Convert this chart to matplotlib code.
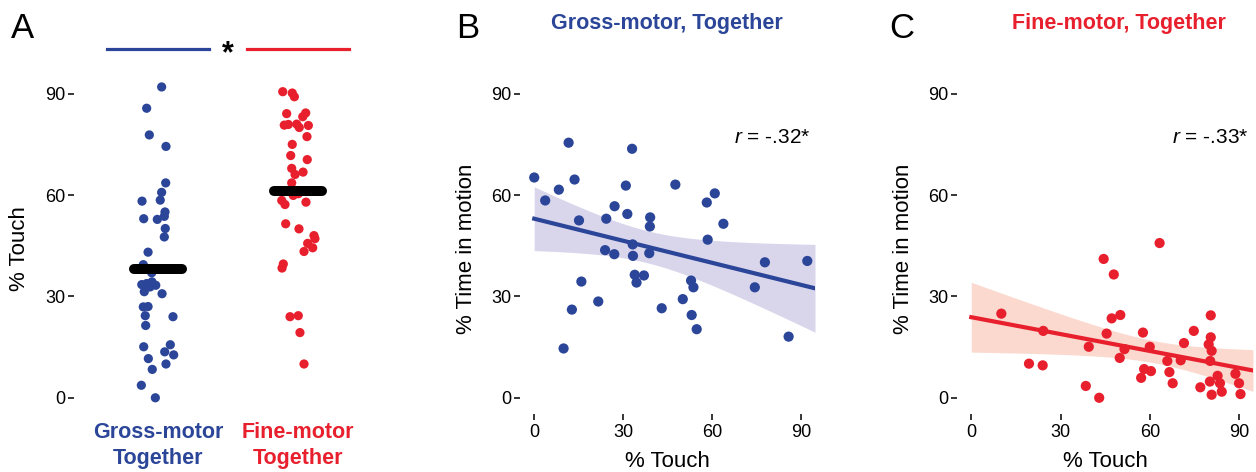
import matplotlib
matplotlib.use('Agg')
import matplotlib.pyplot as plt
import numpy as np

plt.rcParams['font.family'] = ['Liberation Sans', 'DejaVu Sans']
plt.rcParams['mathtext.fontset'] = 'custom'
plt.rcParams['mathtext.it'] = 'Liberation Sans:italic'
plt.rcParams['mathtext.rm'] = 'Liberation Sans'

BLUE = '#2b4599'
RED = '#e8202e'
BAND_B = '#d9d6ec'
BAND_C = '#fbd9cf'

## panel A: % touch per condition (jitter)
cats = ['Gross-motor\nTogether', 'Fine-motor\nTogether']
gross_touch = [92.0, 85.7, 77.8, 74.4, 63.6, 60.8, 58.2, 58.5, 55.0, 53.7, 53.0, 52.8,
               50.1, 47.6, 43.1, 39.4, 37.0, 33.5, 33.8, 34.3, 33.3, 32.8, 31.4, 30.8,
               26.9, 27.0, 24.3, 24.0, 21.4, 15.1, 15.7, 13.6, 12.7, 11.6, 10.0, 8.4, 3.7, 0.0]
gross_jit = [0.026, -0.081, -0.062, 0.057, 0.055, 0.026, -0.114, 0.016, 0.05, 0.045, -0.102,
             -0.005, 0.052, 0.045, -0.071, -0.105, -0.045, -0.116, -0.081, -0.043, -0.016,
             -0.057, -0.098, 0.029, -0.105, -0.071, -0.091, 0.107, -0.088, -0.102, 0.088,
             0.048, 0.112, -0.069, 0.057, -0.041, -0.119, -0.019]
fine_touch = [90.6, 90.2, 89.1, 84.1, 84.3, 83.2, 80.7, 80.9, 81.0, 80.0, 80.6, 77.3, 75.0,
              71.7, 70.5, 67.9, 66.8, 66.1, 63.6, 59.9, 60.4, 58.4, 57.2, 57.9, 51.5, 50.0,
              48.0, 47.1, 45.7, 44.4, 43.3, 39.6, 38.4, 24.0, 24.3, 19.3, 10.0]
fine_jit = [-0.109, -0.041, -0.026, -0.081, 0.055, 0.034, -0.098, -0.069, -0.009, 0.009,
            0.074, 0.064, -0.041, -0.052, 0.066, -0.045, 0.036, -0.021, -0.045, -0.034,
            0.002, -0.116, -0.093, 0.057, -0.088, 0.007, 0.114, 0.121, 0.069, 0.105, 0.043,
            -0.105, -0.114, -0.057, 0.002, 0.014, 0.043]

## panel B: gross-motor, touch vs time in motion
b_touch = [0.0, 3.7, 8.3, 11.6, 13.6, 15.1, 15.9, 12.7, 9.9, 21.6, 24.3, 23.9, 27.0, 27.1,
           30.9, 31.4, 33.0, 33.2, 33.3, 33.9, 34.5, 37.0, 39.1, 39.0, 38.8, 43.0, 47.6,
           50.1, 52.9, 53.7, 53.1, 54.8, 58.2, 58.5, 60.9, 63.8, 74.4, 77.8, 85.8, 92.1]
b_motion = [65.2, 58.4, 61.6, 75.5, 64.6, 52.5, 34.4, 26.1, 14.6, 28.5, 53.0, 43.7, 42.5,
            56.7, 62.8, 54.4, 73.7, 45.4, 42.0, 36.4, 34.1, 36.2, 53.4, 50.7, 42.8, 26.5,
            63.1, 29.2, 34.7, 32.7, 24.5, 20.3, 57.8, 46.8, 60.5, 51.5, 32.7, 40.1, 18.1, 40.5]

## panel C: fine-motor
c_touch = [10.1, 19.4, 24.0, 24.2, 38.5, 39.5, 43.0, 44.5, 45.5, 47.2, 47.9, 50.1, 49.9,
           51.5, 57.1, 58.1, 60.4, 57.7, 60.0, 63.3, 65.9, 66.6, 67.7, 70.4, 71.5, 74.8,
           77.0, 80.5, 80.5, 79.8, 80.8, 80.3, 80.2, 80.8, 82.8, 83.6, 84.2, 88.8, 90.0, 90.5]
c_motion = [24.9, 10.1, 9.6, 19.8, 3.5, 15.1, 0.0, 41.1, 19.0, 23.5, 36.5, 24.5, 11.8,
            14.4, 5.9, 8.5, 7.9, 19.3, 15.1, 45.8, 10.9, 7.6, 4.3, 11.1, 16.2, 19.8, 3.1,
            24.4, 17.9, 15.8, 13.9, 10.9, 4.8, 0.9, 6.5, 4.3, 1.8, 7.1, 4.3, 1.1]

r_labels = ['-.32*', '-.33*']
ticks = [0, 30, 60, 90]

W, H = 1256, 472
fig = plt.figure(figsize=(W / 100, H / 100), dpi=100)


def px_axes(left, right, top, bottom):
    return fig.add_axes([left / W, 1 - bottom / H, (right - left) / W, (bottom - top) / H])


def style(ax):
    for s in ax.spines.values():
        s.set_visible(False)
    ax.tick_params(direction='out', length=4.3, width=1.1, labelsize=13, colors='black')
    ax.tick_params(axis='y', pad=2)
    ax.tick_params(axis='x', pad=3)
    ax.set_yticks(ticks)
    ax.set_ylim(-4.8, 93.2)


TOP, BOT = 82.9, 414

# ---- A
axA = px_axes(74, 382, TOP, BOT)
style(axA)
axA.set_xlim(0.4, 2.6)
for i, (vals, jit, col) in enumerate([(gross_touch, gross_jit, BLUE), (fine_touch, fine_jit, RED)]):
    xs = i + 1 + np.array(jit)
    axA.scatter(xs, vals, s=44, color=col, edgecolors='none', clip_on=False, zorder=2)
    m = np.mean(vals)
    axA.plot([i + 1 - 0.17, i + 1 + 0.17], [m, m], color='black', lw=7.2,
             solid_capstyle='round', zorder=3)
    # significance bar
    axA.plot([i + 1 - 0.362, i + 1 + 0.362], [103.2, 103.2], color=col, lw=2.3,
             clip_on=False)
axA.text(1.5, 101.6, '*', ha='center', va='center', fontsize=22, fontweight='bold',
         clip_on=False)
axA.set_xticks([1, 2])
axA.set_xticklabels(cats, fontsize=15.5, fontweight='bold', linespacing=1.32)
for lab, col in zip(axA.get_xticklabels(), [BLUE, RED]):
    lab.set_color(col)
axA.tick_params(axis='x', length=0, pad=5.5)
axA.set_ylabel('% Touch', fontsize=16)
axA.yaxis.set_label_coords(-0.143, 0.5)


def reg_panel(ax, x, y, col, band, r_text):
    style(ax)
    ax.set_xticks(ticks)
    ax.set_xlim(-4.8, 94.7)
    x = np.array(x)
    y = np.array(y)
    n = len(x)
    b1, b0 = np.polyfit(x, y, 1)
    xx = np.linspace(0, 94.7, 100)
    yy = b0 + b1 * xx
    resid = y - (b0 + b1 * x)
    s = np.sqrt(np.sum(resid ** 2) / (n - 2))
    se = s * np.sqrt(1 / n + (xx - x.mean()) ** 2 / np.sum((x - x.mean()) ** 2))
    t = 2.024
    ax.fill_between(xx, yy - t * se, yy + t * se, color=band, lw=0, zorder=1)
    ax.scatter(x, y, s=54, color=col, edgecolors='none', clip_on=False, zorder=2)
    ax.plot(xx, yy, color=col, lw=3, zorder=3)
    ax.text(93.3, 75.4, r'$\mathit{r}$ = ' + r_text, ha='right', va='baseline', fontsize=15)
    ax.set_xlabel('% Touch', fontsize=16)
    ax.xaxis.set_label_coords(0.5, -0.112)
    ax.set_ylabel('% Time in motion', fontsize=16)
    ax.yaxis.set_label_coords(-0.146, 0.5)


axB = px_axes(520, 815, TOP, BOT)
reg_panel(axB, b_touch, b_motion, BLUE, BAND_B, r_labels[0])
axC = px_axes(957, 1253, TOP, BOT)
reg_panel(axC, c_touch, c_motion, RED, BAND_C, r_labels[1])

# titles and panel letters
fig.text(667 / W, 1 - 29.5 / H, 'Gross-motor, Together', ha='center', va='baseline',
         fontsize=15.5, fontweight='bold', color=BLUE)
fig.text(1119 / W, 1 - 29.5 / H, 'Fine-motor, Together', ha='center', va='baseline',
         fontsize=15.5, fontweight='bold', color=RED)
for letter, xp in [('A', 11), ('B', 456), ('C', 889)]:
    fig.text(xp / W, 1 - 38 / H, letter, ha='left', va='baseline', fontsize=25)

fig.savefig('out.png', dpi=100)
